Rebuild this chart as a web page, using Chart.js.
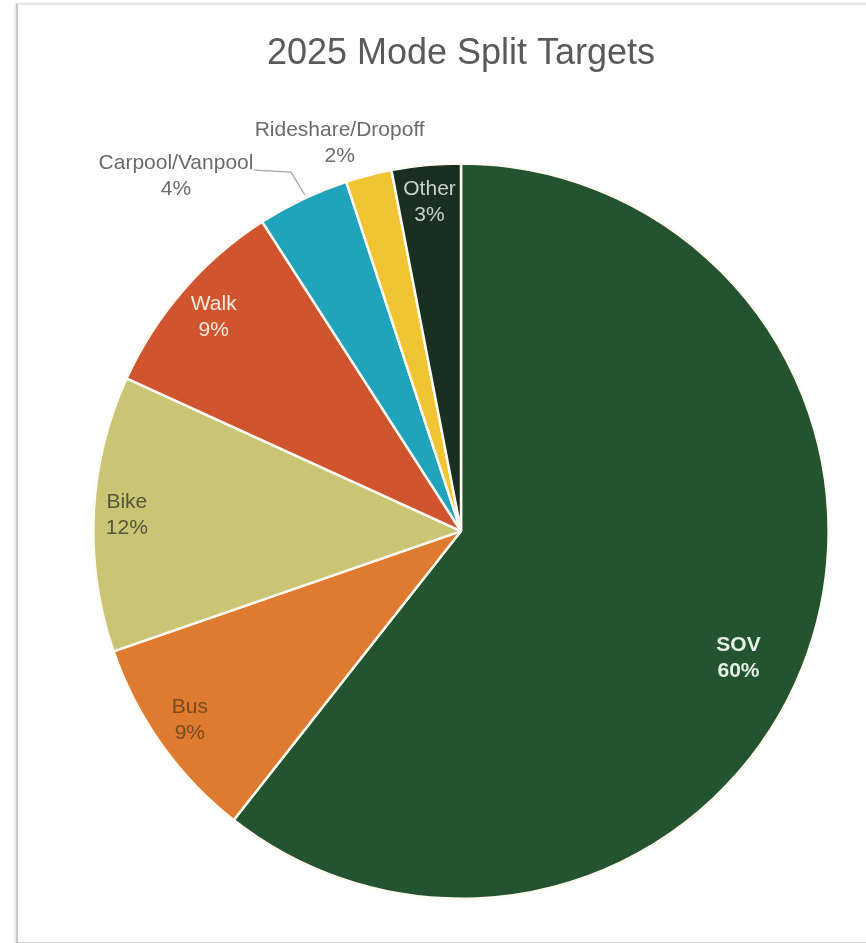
<!DOCTYPE html>
<html>
<head>
<meta charset="utf-8">
<script src="https://cdn.jsdelivr.net/npm/chart.js@4.4.1/dist/chart.umd.min.js"></script>
<style>
  html, body { margin: 0; padding: 0; background: #ffffff; }
  #wrap { position: relative; width: 866px; height: 943px; overflow: hidden; background: #fff; }
  #card {
    position: absolute; left: 16px; top: 3px; width: 860px; height: 937px;
    border-left: 2px solid #c9c9c9; border-top: 2px solid #e6e6e6; border-bottom: 2px solid #cfcfcf;
    box-shadow: -1px 0 2px rgba(0,0,0,0.12);
    background: #fff;
  }
  #c { position: absolute; left: 0; top: 0; }
</style>
</head>
<body>
<div id="wrap">
  <div id="card"></div>
  <canvas id="c" width="866" height="943"></canvas>
</div>
<script>
// Commute mode split targets for 2025 (percent)
const modes = ["SOV", "Bus", "Bike", "Walk", "Carpool/Vanpool", "Rideshare/Dropoff", "Other"];
const shares = [60, 9, 12, 9, 4, 2, 3];
const sliceColors = ["#23532f", "#de7b30", "#cac475", "#d0552f", "#1fa4bc", "#f0c432", "#192f1f"];
const labelColors = ["#e6efe6", "#7a4a20", "#55553a", "#fbe8dc", "#6b6b6b", "#6b6b6b", "#c9d2cb"];
const labelBold = [true, false, false, false, false, false, false];
// radial position of the in-slice labels, as a fraction of the radius
const labelRadius = [0.83, 0.9, 0.91, 0.89, 0, 0, 0.9];
// small angular nudge (degrees, clockwise) for in-slice labels
const labelTurn = [5.5, 0.5, 0, 0, 0, 0, 0];
// labels placed outside the pie, relative to the slice's outer edge
const outsideLabels = {
  4: { dx: -127, dy: -23, leader: true },
  5: { dx: -29, dy: -32, leader: false }
};

const sliceLabels = {
  id: 'sliceLabels',
  afterDatasetsDraw(chart) {
    const ctx = chart.ctx;
    const meta = chart.getDatasetMeta(0);
    meta.data.forEach((arc, i) => {
      const p = arc.getProps(['x', 'y', 'startAngle', 'endAngle', 'outerRadius'], true);
      const mid = (p.startAngle + p.endAngle) / 2;
      const lines = [modes[i], shares[i] + '%'];
      ctx.save();
      ctx.font = (labelBold[i] ? 'bold ' : '') + '21px "Liberation Sans", Arial, sans-serif';
      ctx.fillStyle = labelColors[i];
      ctx.textAlign = 'center';
      ctx.textBaseline = 'middle';
      let lx, ly;
      if (outsideLabels[i]) {
        const ex = p.x + Math.cos(mid) * p.outerRadius;
        const ey = p.y + Math.sin(mid) * p.outerRadius;
        const o = outsideLabels[i];
        lx = ex + o.dx; ly = ey + o.dy;
        if (o.leader) {
          const tw = ctx.measureText(lines[0]).width;
          const yl = ly - 13 + 7;
          ctx.strokeStyle = '#a6a6a6';
          ctx.lineWidth = 1.2;
          ctx.beginPath();
          ctx.moveTo(lx + tw / 2 + 1, yl);
          ctx.lineTo(ex - 12, yl + 2);
          ctx.lineTo(ex + 2, ey - 4);
          ctx.stroke();
        }
      } else {
        const r = p.outerRadius * labelRadius[i];
        const a = mid + labelTurn[i] * Math.PI / 180;
        lx = p.x + Math.cos(a) * r;
        ly = p.y + Math.sin(a) * r;
      }
      ctx.fillText(lines[0], lx, ly - 13);
      ctx.fillText(lines[1], lx, ly + 13);
      ctx.restore();
    });
  }
};

new Chart(document.getElementById('c'), {
  type: 'pie',
  data: {
    labels: modes,
    datasets: [{
      data: shares,
      backgroundColor: sliceColors,
      borderColor: '#fffaf2',
      borderWidth: 2.5
    }]
  },
  options: {
    responsive: false,
    animation: false,
    layout: { padding: { left: 92, right: 36, top: 28, bottom: 43 } },
    plugins: {
      legend: { display: false },
      tooltip: { enabled: false },
      title: {
        display: true,
        text: '2025 Mode Split Targets',
        color: '#5a5a5a',
        font: { family: '"Liberation Sans", Arial, sans-serif', size: 36, weight: 'normal', lineHeight: 1.2 },
        padding: { top: 4, bottom: 87 }
      }
    }
  },
  plugins: [sliceLabels]
});
</script>
</body>
</html>
